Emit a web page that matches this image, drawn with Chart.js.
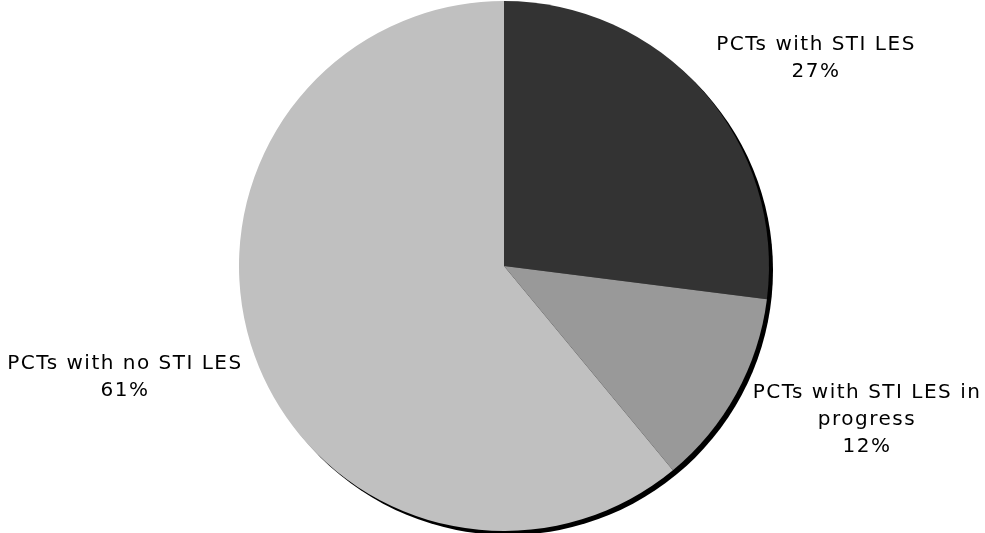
<!DOCTYPE html>
<html>
<head>
<meta charset="utf-8">
<script src="https://cdn.jsdelivr.net/npm/chart.js@4/dist/chart.umd.min.js"></script>
<style>
html,body{margin:0;padding:0;background:#fff;}
#wrap{width:985px;height:533px;}
</style>
</head>
<body>
<div id="wrap"><canvas id="c" width="985" height="533"></canvas></div>
<script>
const categories = ["PCTs with STI LES", "PCTs with STI LES in progress", "PCTs with no STI LES"];
const values = [27, 12, 61];
const labelLines = [["PCTs with STI LES", "27%"], ["PCTs with STI LES in", "progress", "12%"], ["PCTs with no STI LES", "61%"]];
const colors = ["#333333", "#999999", "#c0c0c0"];
const labelAnchors = [[816, 45], [867, 393], [125, 364]];

const shadowPlugin = {
  id: 'shadow',
  beforeDatasetsDraw(chart) {
    const arc = chart.getDatasetMeta(0).data[0];
    if (!arc) return;
    const ctx = chart.ctx;
    ctx.save();
    ctx.fillStyle = '#000';
    ctx.beginPath();
    ctx.arc(arc.x + 4, arc.y + 4, arc.outerRadius, 0, Math.PI * 2);
    ctx.fill();
    ctx.restore();
  }
};

const labelPlugin = {
  id: 'labels',
  afterDatasetsDraw(chart) {
    const ctx = chart.ctx;
    ctx.save();
    ctx.font = '20px "DejaVu Sans"';
    ctx.letterSpacing = '1.5px';
    ctx.fillStyle = '#000';
    ctx.textAlign = 'center';
    ctx.textBaseline = 'middle';
    labelLines.forEach((lines, i) => {
      const [x, y] = labelAnchors[i];
      lines.forEach((t, j) => ctx.fillText(t, x, y + j * 27));
    });
    ctx.restore();
  }
};

new Chart(document.getElementById('c'), {
  type: 'pie',
  data: {
    labels: categories,
    datasets: [{
      data: values,
      backgroundColor: colors,
      borderWidth: 0
    }]
  },
  options: {
    responsive: false,
    animation: false,
    layout: { padding: { left: 23, right: 0, top: 1, bottom: 2 } },
    plugins: { legend: { display: false }, tooltip: { enabled: false } }
  },
  plugins: [shadowPlugin, labelPlugin]
});
</script>
</body>
</html>
